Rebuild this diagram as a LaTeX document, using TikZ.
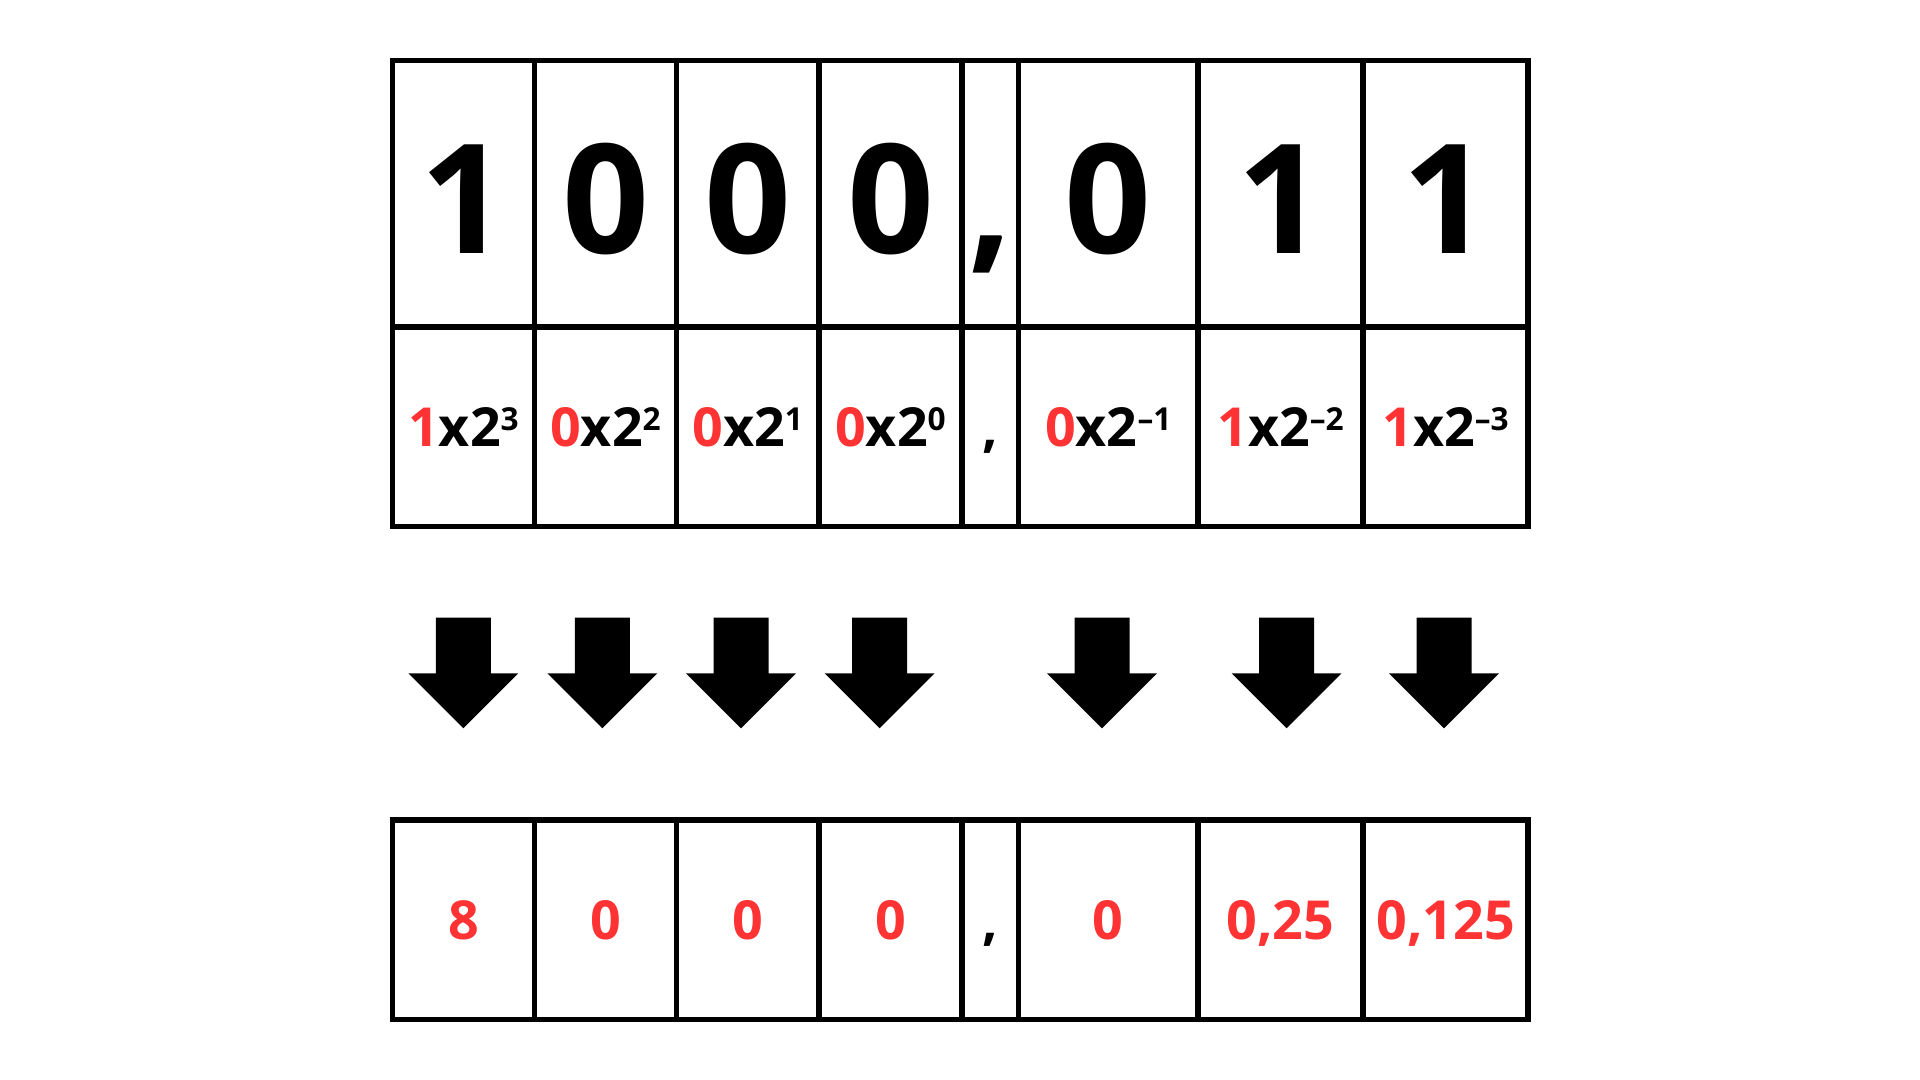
\documentclass[tikz,border=0pt]{standalone}
\usepackage{fontspec}
\setmainfont{Open Sans}
\usepackage{tikz}
\usetikzlibrary{positioning}
\usepackage{xcolor}
\definecolor{digitred}{HTML}{FF3333}
\newcommand{\pw}[1]{\raisebox{4.6pt}{\fontsize{9pt}{9pt}\selectfont #1}}

\begin{document}
\begin{tikzpicture}[
  x=0.01cm, y=-0.01cm,
  grid/.style={draw, line width=1.45pt},
  bit/.style={anchor=base, inner sep=0pt, font=\fontsize{43.3pt}{50pt}\selectfont\bfseries},
  power/.style={anchor=base, inner sep=0pt, font=\fontsize{15.3pt}{18pt}\selectfont\bfseries},
  value/.style={anchor=base, inner sep=0pt, text=digitred, font=\fontsize{15.3pt}{18pt}\selectfont\bfseries},
  blockarrow/.style={fill=black}
]
  \useasboundingbox (0,0) rectangle (1920,1080);

  % Top table
  \draw[grid] (392.5,60.5) rectangle (1528,526.5);
  \draw[grid] (392.5,327) -- (1528,327);
  \foreach \sx in {534.5, 676.5, 819, 962, 1018.5, 1198, 1363}
    \draw[grid] (\sx,60.5) -- (\sx,526.5);

  % Bits
  \node[bit] (b1) at (463.5,254) {1};
  \node[bit] (b2) at (605.5,254) {0};
  \node[bit] (b3) at (747.75,254) {0};
  \node[bit] (b4) at (890.5,254) {0};
  \node[bit] (b5) at (990.25,254) {,};
  \node[bit] (b6) at (1108.25,254) {0};
  \node[bit] (b7) at (1280.5,254) {1};
  \node[bit] (b8) at (1445.5,254) {1};

  % Powers of two
  \node[power] (p1) at (463.5,447) {{\color{digitred}1}x2\pw{3}};
  \node[power] (p2) at (605.5,447) {{\color{digitred}0}x2\pw{2}};
  \node[power] (p3) at (747.75,447) {{\color{digitred}0}x2\pw{1}};
  \node[power] (p4) at (890.5,447) {{\color{digitred}0}x2\pw{0}};
  \node[power] (p5) at (990.25,447) {,};
  \node[power] (p6) at (1108.25,447) {{\color{digitred}0}x2\pw{–1}};
  \node[power] (p7) at (1280.5,447) {{\color{digitred}1}x2\pw{–2}};
  \node[power] (p8) at (1445.5,447) {{\color{digitred}1}x2\pw{–3}};

  % Arrows
  \foreach \ax in {463.3, 602.3, 741, 879.7, 1102, 1286.7, 1444}
    \fill[blockarrow] (\ax-27.5,617.7) -- ++(55,0) -- ++(0,55.6) -- ++(27.5,0)
      -- ++(-55,55) -- ++(-55,-55) -- ++(27.5,0) -- cycle;

  % Bottom table
  \draw[grid] (392.5,820) rectangle (1528,1019.5);
  \foreach \sx in {534.5, 676.5, 819, 962, 1018.5, 1198, 1363}
    \draw[grid] (\sx,820) -- (\sx,1019.5);

  % Values
  \node[value] (v1) at (463.5,940) {8};
  \node[value] (v2) at (605.5,940) {0};
  \node[value] (v3) at (747.75,940) {0};
  \node[value] (v4) at (890.5,940) {0};
  \node[power] (v5) at (990.25,940) {,};
  \node[value] (v6) at (1108.25,940) {0};
  \node[value] (v7) at (1280.5,940) {0,25};
  \node[value] (v8) at (1445.5,940) {0,125};
\end{tikzpicture}
\end{document}
